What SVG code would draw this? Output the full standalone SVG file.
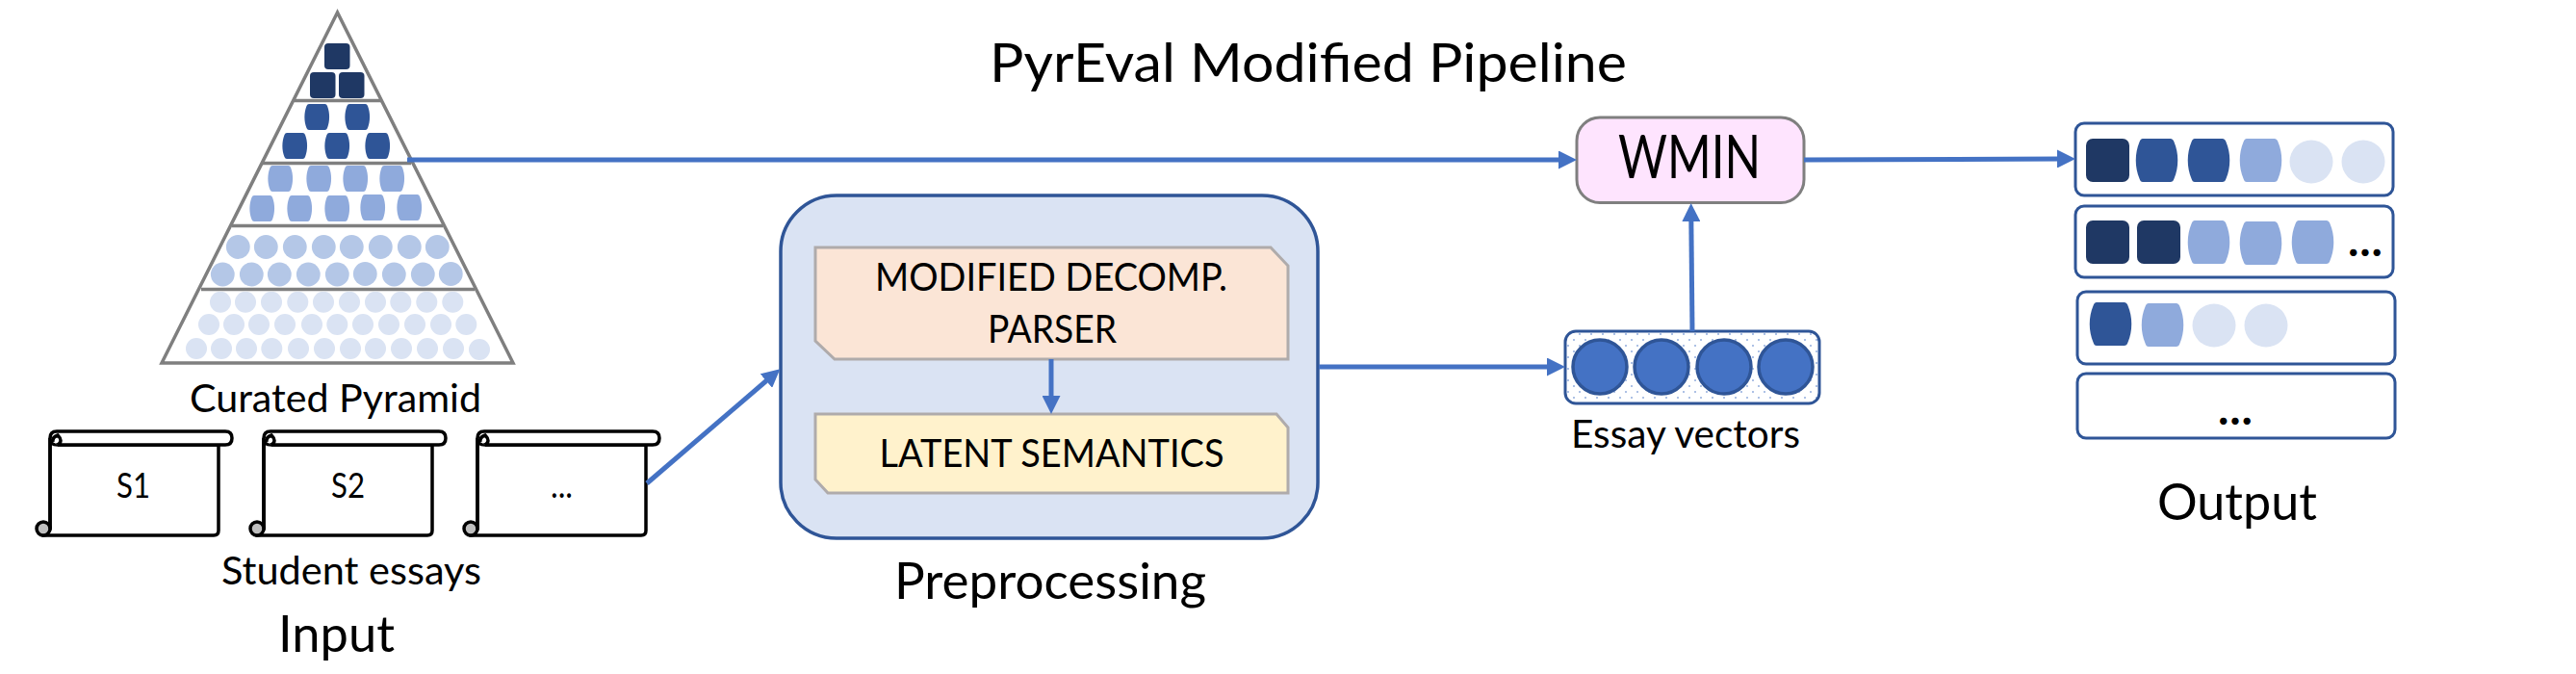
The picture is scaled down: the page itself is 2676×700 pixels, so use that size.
<svg xmlns="http://www.w3.org/2000/svg" xmlns:xlink="http://www.w3.org/1999/xlink" width="2676" height="700" viewBox="0 0 2676 700">
<style>
text{font-family:Lato,"Noto Sans","Liberation Sans",sans-serif;fill:#000}
.s37{font-size:40px}.s33{font-size:36px}.s48{font-size:53px}.s57{font-size:61px}.s56{font-size:57px}
.dk{fill:#1f3864}.md{fill:#2f5597}.lt{fill:#8faadc}.c1{fill:#b4c7e7}.c2{fill:#dae3f3}
.pl{stroke:#7f7f7f;stroke-width:3.5;fill:none}
.row{fill:#fff;stroke:#2f5597;stroke-width:3}
.shape{stroke:#afabab;stroke-width:3}
.cn{stroke:#4472c4;stroke-width:5;fill:none}
.ar{marker-end:url(#ah)}
.sc{fill:#fff;stroke:#000;stroke-width:3.5}
.vc{fill:#4472c4;stroke:#2f5597;stroke-width:3.500}
</style>
<defs>
<marker id="ah" markerUnits="userSpaceOnUse" markerWidth="19" markerHeight="19" refX="4" refY="9.5" orient="auto"><path d="M0,0L19,9.5L0,19Z" fill="#4472c4"/></marker>
<pattern id="dots" x="1626" y="344" width="12" height="12" patternUnits="userSpaceOnUse"><rect width="12" height="12" fill="#fff"/><circle cx="3" cy="3" r=".8" fill="#4472c4"/><circle cx="9" cy="9" r=".8" fill="#4472c4"/></pattern>
<rect id="sq" width="26.500" height="27" rx="4"/>
<path id="br" d="M5,0H21.500Q23.300,0 24,2C26.800,9 26.800,18 24,25Q23.300,27 21.500,27H5Q3.200,27 2.500,25C-.3,18 -.3,9 2.500,2Q3.200,0 5,0Z"/>
<rect id="sqb" width="45" height="45" rx="7"/>
<path id="brb" d="M8,0H36.500Q39.500,0 40.500,3.500C45.500,15 45.500,30 40.500,41.500Q39.500,45 36.500,45H8Q5.500,45 4.500,41.500C-.5,30 -.5,15 4.500,3.500Q5.500,0 8,0Z"/>
<g id="scroll">
<path class="sc" d="M52,455V549H45V556H222Q227,556 227,551V462H60Q52,462 52,455Z"/>
<circle cx="45" cy="549" r="7" fill="#bfbfbf" stroke="#000" stroke-width="3.500"/>
<path class="sc" d="M52,455Q52,448 59,448H234Q241,448 241,455Q241,462 234,462H60M60,462Q66,458 60,452Q54,454 55,459"/>
<path d="M52,455V549" stroke="#000" stroke-width="3.500"/>
</g>
</defs>
<rect width="2676" height="700" fill="#fff"/>

<g id="pyramid">
<path class="pl" d="M350.500,13L168,377H533Z"/>
<path class="pl" d="M306,104.500H396M273,169.500H427M241,234.500H460M209,300.500H493"/>
<g class="dk"><use href="#sq" x="337" y="45"/><use href="#sq" x="322" y="75"/><use href="#sq" x="352" y="75"/></g>
<g class="md"><use href="#br" x="316" y="108"/><use href="#br" x="358" y="108"/><use href="#br" x="293" y="138"/><use href="#br" x="337" y="138"/><use href="#br" x="379" y="138"/></g>
<g class="lt"><use href="#br" x="278" y="172"/><use href="#br" x="318" y="172"/><use href="#br" x="356" y="172"/><use href="#br" x="394" y="172"/><use href="#br" x="259" y="203"/><use href="#br" x="298" y="203"/><use href="#br" x="337" y="203"/><use href="#br" x="374" y="202"/><use href="#br" x="412" y="202"/></g>
<g class="c1">
<circle cx="247.300" cy="256.500" r="12.400"/><circle cx="276.300" cy="256.500" r="12.400"/><circle cx="306.300" cy="256.500" r="12.400"/><circle cx="336.300" cy="256.500" r="12.400"/><circle cx="365.300" cy="256.500" r="12.400"/><circle cx="395.300" cy="256.500" r="12.400"/><circle cx="425.300" cy="256.500" r="12.400"/><circle cx="454.300" cy="256.500" r="12.400"/>
<circle cx="231.300" cy="285" r="12.400"/><circle cx="261.300" cy="285" r="12.400"/><circle cx="290.300" cy="285" r="12.400"/><circle cx="320.300" cy="285" r="12.400"/><circle cx="350.300" cy="285" r="12.400"/><circle cx="379.300" cy="284.500" r="12.400"/><circle cx="409.300" cy="285" r="12.400"/><circle cx="439.300" cy="285" r="12.400"/><circle cx="468.300" cy="284.500" r="12.400"/>
</g>
<g class="c2">
<circle cx="229" cy="313.700" r="11"/><circle cx="255" cy="313.700" r="11"/><circle cx="282" cy="313.700" r="11"/><circle cx="309.300" cy="313.700" r="11"/><circle cx="336" cy="313.700" r="11"/><circle cx="363" cy="313.700" r="11"/><circle cx="390" cy="313.700" r="11"/><circle cx="416.300" cy="313.700" r="11"/><circle cx="443.300" cy="313.700" r="11"/><circle cx="470.300" cy="313.700" r="11"/>
<circle cx="217" cy="337" r="11"/><circle cx="243" cy="337" r="11"/><circle cx="269" cy="337" r="11"/><circle cx="296" cy="337" r="11"/><circle cx="324" cy="337" r="11"/><circle cx="350.300" cy="337" r="11"/><circle cx="377" cy="337" r="11"/><circle cx="404" cy="337" r="11"/><circle cx="431" cy="337" r="11"/><circle cx="458" cy="337" r="11"/><circle cx="484.300" cy="337" r="11"/>
<circle cx="204" cy="362" r="11"/><circle cx="230" cy="362" r="11"/><circle cx="256" cy="362" r="11"/><circle cx="282.300" cy="362" r="11"/><circle cx="310" cy="362" r="11"/><circle cx="337" cy="362" r="11"/><circle cx="364" cy="362" r="11"/><circle cx="390" cy="362" r="11"/><circle cx="417" cy="362" r="11"/><circle cx="444" cy="362" r="11"/><circle cx="471" cy="362" r="11"/><circle cx="498" cy="363" r="11"/>
</g>
<text class="s37" x="197" y="428" textLength="303" lengthAdjust="spacingAndGlyphs">Curated Pyramid</text>
</g>

<g id="essay-1"><use href="#scroll"/><text class="s33" x="121" y="517" textLength="35" lengthAdjust="spacingAndGlyphs">S1</text></g>
<g id="essay-2"><use href="#scroll" x="222"/><text class="s33" x="344" y="517" textLength="35" lengthAdjust="spacingAndGlyphs">S2</text></g>
<g id="essay-3"><use href="#scroll" x="444"/><text class="s33" x="572" y="517" textLength="23" lengthAdjust="spacingAndGlyphs">...</text></g>
<g id="input-labels">
<text class="s37" x="230" y="607" textLength="270" lengthAdjust="spacingAndGlyphs">Student essays</text>
<text class="s48" x="289" y="677" textLength="121" lengthAdjust="spacingAndGlyphs">Input</text>
</g>

<g id="preprocessing">
<rect x="811" y="203" width="558" height="356" rx="58" fill="#dae3f3" stroke="#2f5597" stroke-width="3.500"/>
<text class="s48" x="929" y="622" textLength="324" lengthAdjust="spacingAndGlyphs">Preprocessing</text>
</g>
<g id="parser">
<path class="shape" fill="#fbe5d6" d="M847,257H1320L1338,276V373H867L847,354Z"/>
<text class="s37" x="909" y="302" textLength="366" lengthAdjust="spacingAndGlyphs">MODIFIED DECOMP.</text>
<text class="s37" x="1026" y="356" textLength="134" lengthAdjust="spacingAndGlyphs">PARSER</text>
</g>
<g id="latent">
<path class="shape" fill="#fff2cc" d="M847,430H1326L1338,444V512H860L847,498Z"/>
<text class="s37" x="913.500" y="485" textLength="358" lengthAdjust="spacingAndGlyphs">LATENT SEMANTICS</text>
</g>

<g id="wmin">
<rect x="1638" y="122" width="236" height="88.500" rx="24" fill="#fee4fe" stroke="#7f7f7f" stroke-width="3"/>
<text class="s57" x="1681" y="185" textLength="148" lengthAdjust="spacingAndGlyphs">WMIN</text>
</g>

<g id="essay-vectors">
<rect x="1626" y="344" width="264" height="75" rx="11" fill="url(#dots)" stroke="#2f5597" stroke-width="3"/>
<circle class="vc" cx="1662" cy="381" r="28"/><circle class="vc" cx="1726" cy="381" r="28"/><circle class="vc" cx="1791" cy="381" r="28"/><circle class="vc" cx="1855" cy="381" r="28"/>
<text class="s37" x="1632" y="465" textLength="238" lengthAdjust="spacingAndGlyphs">Essay vectors</text>
</g>

<g id="output">
<g id="row-1"><rect class="row" x="2156" y="128" width="330" height="75" rx="9"/>
<use href="#sqb" class="dk" x="2167" y="144"/><use href="#brb" class="md" x="2218" y="144"/><use href="#brb" class="md" x="2272" y="144"/><use href="#brb" class="lt" x="2326" y="144"/><circle class="c2" cx="2401" cy="168" r="22.500"/><circle class="c2" cx="2455" cy="168" r="22.500"/></g>
<g id="row-2"><rect class="row" x="2156" y="214" width="330" height="74" rx="9"/>
<use href="#sqb" class="dk" x="2167" y="229"/><use href="#sqb" class="dk" x="2220" y="229"/><use href="#brb" class="lt" x="2272" y="229"/><use href="#brb" class="lt" x="2326" y="230"/><use href="#brb" class="lt" x="2380" y="229"/>
<text x="2439" y="266" font-size="48" font-weight="700" textLength="36">...</text></g>
<g id="row-3"><rect class="row" x="2158" y="303" width="330" height="75" rx="9"/>
<use href="#brb" class="md" x="2170" y="314"/><use href="#brb" class="lt" x="2224" y="315"/><circle class="c2" cx="2300" cy="338" r="22.500"/><circle class="c2" cx="2354" cy="338" r="22.500"/></g>
<g id="row-4"><rect class="row" x="2158" y="388" width="330" height="67" rx="9"/>
<text x="2304" y="441" font-size="48" font-weight="700" textLength="36">...</text></g>
<text class="s48" x="2241" y="540" textLength="166" lengthAdjust="spacingAndGlyphs">Output</text>
</g>

<g id="title"><text class="s56" x="1028" y="85" textLength="662" lengthAdjust="spacingAndGlyphs">PyrEval Modified Pipeline</text></g>

<g id="connectors">
<path class="cn ar" d="M423,166H1623"/>
<path class="cn ar" d="M1874,166L2141,165"/>
<path class="cn ar" d="M1758,344L1756.800,226"/>
<path class="cn ar" d="M1370,381H1611"/>
<path class="cn ar" d="M1092,373V415"/>
<path class="cn ar" d="M672,502L799,393"/>
</g>
</svg>
